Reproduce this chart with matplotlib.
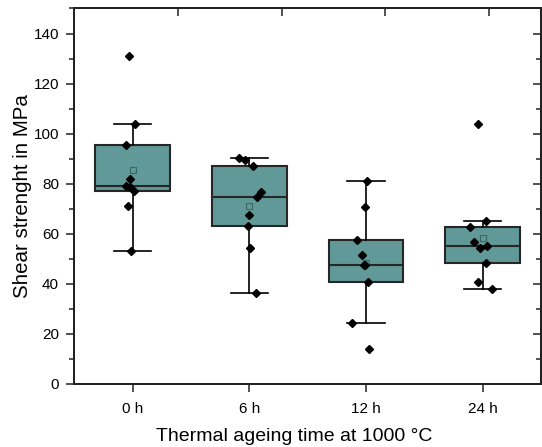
import numpy as np
import matplotlib
matplotlib.use("Agg")
from matplotlib import pyplot as plt
from matplotlib.ticker import MultipleLocator

plt.rcParams['font.family'] = ['Liberation Sans', 'DejaVu Sans']

# Data (MPa)
labels = ["0 h", "6 h", "12 h", "24 h"]
shear_0h = [131.0, 104.0, 95.3, 81.9, 79.0, 78.5, 77.1, 71.1, 53.0]
shear_6h = [90.4, 89.4, 87.0, 76.5, 74.7, 67.4, 63.2, 54.5, 36.2]
shear_12h = [81.2, 70.6, 57.7, 51.5, 47.5, 47.4, 40.8, 24.3, 14.0]
shear_24h = [103.7, 65.0, 62.6, 56.9, 55.0, 54.4, 48.3, 40.7, 37.9]

# horizontal scatter of the points (fraction of category spacing)
jitter_0h = [-0.03, 0.02, -0.06, -0.02, -0.06, -0.02, 0.01, -0.04, -0.01]
jitter_6h = [-0.09, -0.04, 0.03, 0.10, 0.07, 0.0, -0.01, 0.01, 0.06]
jitter_12h = [0.01, -0.01, -0.08, -0.03, -0.01, -0.015, 0.02, -0.12, 0.03]
jitter_24h = [-0.04, 0.03, -0.11, -0.07, 0.04, -0.02, 0.03, -0.04, 0.08]

groups = [shear_0h, shear_6h, shear_12h, shear_24h]
jitters = [jitter_0h, jitter_6h, jitter_12h, jitter_24h]
pos = np.arange(1, len(groups) + 1)

fig = plt.figure(figsize=(5.42, 4.47), dpi=100)
ax = fig.add_axes([0.137, 0.141, 0.861, 0.840])

box_col = '#609998'
edge_col = '#262626'
bp = ax.boxplot(groups, positions=pos, widths=0.64, whis=1.5, showfliers=False,
                showmeans=True, patch_artist=True,
                boxprops=dict(facecolor=box_col, edgecolor=edge_col, linewidth=1.5),
                medianprops=dict(color=edge_col, linewidth=1.5),
                whiskerprops=dict(color='black', linewidth=1.2),
                capprops=dict(color='black', linewidth=1.2),
                meanprops=dict(marker='s', markersize=4, markerfacecolor='none',
                               markeredgecolor='#3d6665', markeredgewidth=0.8))
for cap in bp['caps']:
    x0, x1 = cap.get_xdata()
    c = (x0 + x1) / 2
    cap.set_xdata([c - 0.16, c + 0.16])

for p, vals, jit in zip(pos, groups, jitters):
    ax.plot(p + np.array(jit), vals, linestyle='none', marker='D', markersize=4,
            color='black', zorder=5)

ax.set_xlim(0.5, 4.5)
ax.set_ylim(0, 150)
ax.set_xticks(pos)
ax.set_xticklabels(labels)
ax.set_yticks(np.arange(0, 141, 20))
ax.yaxis.set_minor_locator(MultipleLocator(10))

for s in ax.spines.values():
    s.set_linewidth(1.3)
    s.set_color('#222222')

ax.tick_params(axis='both', which='major', direction='out', length=6, width=1.1,
               labelsize=11, colors='#222222', labelcolor='black', pad=5)
ax.tick_params(axis='x', pad=7)
ax.tick_params(axis='y', which='minor', direction='out', length=3.5, width=1.1,
               colors='#222222')

# inward ticks on the top and right spines (top axis runs 0..4.5 as in the original)
top = ax.twiny()
top.set_xlim(0, 4.5)
top.set_xticks(pos)
top.tick_params(direction='in', length=6, width=1.1, labeltop=False, colors='#222222')
right = ax.twinx()
right.set_ylim(ax.get_ylim())
right.set_yticks(np.arange(0, 141, 20))
right.yaxis.set_minor_locator(MultipleLocator(10))
right.tick_params(which='major', direction='in', length=6, width=1.1,
                  labelright=False, colors='#222222')
right.tick_params(which='minor', direction='in', length=3.5, width=1.1,
                  colors='#222222')
for t in (top, right):
    for s in t.spines.values():
        s.set_linewidth(1.3)
        s.set_color('#222222')

ax.set_ylabel("Shear strenght in MPa", fontsize=14.8, labelpad=1)
fig.text(0.5425, 0.004, "Thermal ageing time at 1000 \u00b0C", fontsize=14,
         ha='center', va='bottom')

fig.savefig("out.png", dpi=100)
